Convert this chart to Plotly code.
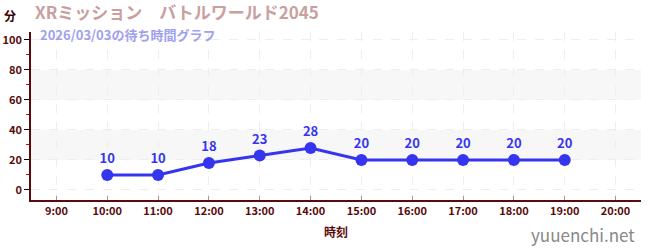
import plotly.graph_objects as go

hours = [10, 11, 12, 13, 14, 15, 16, 17, 18, 19]
waits = [10, 10, 18, 23, 28, 20, 20, 20, 20, 20]
tick_hours = [9, 10, 11, 12, 13, 14, 15, 16, 17, 18, 19, 20]
tick_labels = [f"{h}:00" for h in tick_hours]
title_text = "XRミッション　バトルワールド2045"
subtitle_text = "2026/03/03の待ち時間グラフ"

FONT = "Noto Sans CJK JP"
AX = "#5a0a0a"

fig = go.Figure()
fig.add_trace(go.Scatter(
    x=hours, y=waits, mode="lines+markers+text",
    text=[str(v) for v in waits], textposition="top center",
    textfont=dict(family=FONT, size=13, color="#3535f0", weight="bold"),
    line=dict(color="#3535f0", width=3),
    marker=dict(size=12, color="#3535f0"),
    hoverinfo="skip", cliponaxis=False,
))

for y0, y1 in [(20, 40), (60, 80)]:
    fig.add_shape(type="rect", xref="paper", x0=0, x1=1, yref="y", y0=y0, y1=y1,
                  fillcolor="#f7f7f7", line_width=0, layer="below")

fig.update_layout(
    width=650, height=250,
    margin=dict(l=31, r=9, t=32, b=50),
    paper_bgcolor="white", plot_bgcolor="white",
    showlegend=False,
    font=dict(family=FONT, color=AX),
    xaxis=dict(
        range=[8.5, 20.5], tickvals=tick_hours, ticktext=tick_labels,
        automargin=False,
        showline=True, linecolor=AX, linewidth=1.5,
        ticks="inside", ticklen=4, tickcolor="#999999",
        tickfont=dict(family=FONT, size=11, color=AX, weight="bold"),
        showgrid=True, gridcolor="#eeeeee", griddash="dash", gridwidth=1,
        zeroline=False,
        title=dict(text="時刻", font=dict(family=FONT, size=12, color=AX, weight="bold"), standoff=12),
    ),
    yaxis=dict(
        range=[-6.7, 105.3], tickvals=[0, 20, 40, 60, 80, 100],
        automargin=False,
        showline=True, linecolor=AX, linewidth=1.5,
        ticks="outside", ticklen=5, tickcolor="#000000",
        tickfont=dict(family=FONT, size=11, color=AX, weight="bold"),
        showgrid=True, gridcolor="#eeeeee", griddash="dash",
        zeroline=False,
        minor=dict(dtick=10, tick0=0, ticks="outside", ticklen=3, tickcolor="#dd0000", showgrid=False),
    ),
)

fig.add_annotation(text=title_text, xref="paper", yref="paper", x=0.0, y=1.0,
                   xanchor="left", yanchor="bottom", xshift=2, yshift=6, showarrow=False,
                   font=dict(family=FONT, size=17, color="#c9a0a0", weight="bold"))
fig.add_annotation(text=subtitle_text, xref="paper", yref="paper", x=0.0, y=1.0,
                   xanchor="left", yanchor="top", xshift=7, yshift=9, showarrow=False,
                   font=dict(family=FONT, size=13, color="#a0a0f0", weight="bold"))
fig.add_annotation(text="分", xref="paper", yref="paper", x=0.0, y=1.0,
                   xanchor="center", yanchor="bottom", xshift=-21, yshift=6, showarrow=False,
                   font=dict(family=FONT, size=12, color="#3a0000", weight="bold"))
fig.add_annotation(text="yuuenchi.net", xref="paper", yref="paper", x=1.0, y=0,
                   xanchor="right", yanchor="top", xshift=-4, yshift=-20, showarrow=False,
                   font=dict(family=FONT, size=17, color="#888888"))

fig.write_html("out.html")
